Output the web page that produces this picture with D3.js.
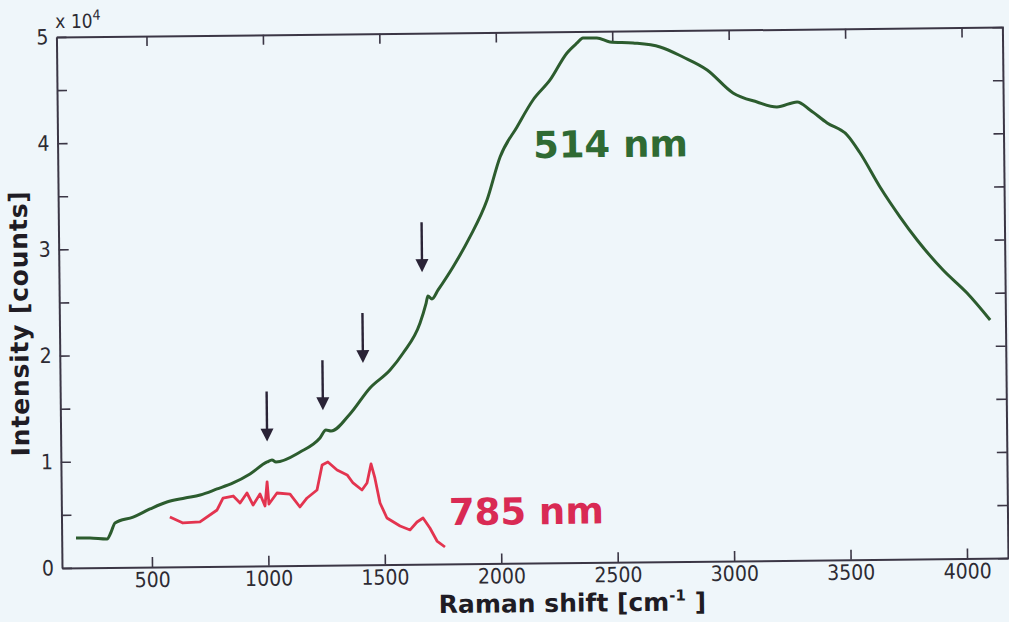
<!DOCTYPE html>
<html>
<head>
<meta charset="utf-8">
<script src="https://cdn.jsdelivr.net/npm/d3@7"></script>
<style>
  html, body { margin: 0; padding: 0; background: #eff6fa; }
  svg { display: block; }
</style>
</head>
<body>
<svg id="chart" width="1009" height="622"></svg>
<script>
// 514 nm excitation: Raman shift (cm-1) and intensity (units of 10^4 counts)
const shift514 = [175, 235, 308, 326, 343, 421, 494, 567, 645, 710, 783, 852, 925, 999, 1020, 1037,
  1141, 1227, 1253, 1275, 1357, 1444, 1531, 1588, 1662, 1689, 1697, 1714, 1741, 1806, 1880, 1955,
  2013, 2087, 2157, 2231, 2305, 2349, 2374, 2434, 2490, 2589, 2705, 2803, 2906, 3016, 3119, 3204,
  3291, 3346, 3419, 3504, 3559, 3643, 3728, 3800, 3910, 4012, 4110];
const counts514 = [0.281, 0.280, 0.269, 0.334, 0.419, 0.473, 0.547, 0.611, 0.647, 0.674, 0.729, 0.784,
  0.867, 0.978, 0.996, 0.977, 1.069, 1.199, 1.273, 1.264, 1.422, 1.665, 1.832, 1.991, 2.272, 2.459,
  2.525, 2.497, 2.581, 2.796, 3.077, 3.423, 3.827, 4.108, 4.360, 4.547, 4.800, 4.893, 4.939, 4.938,
  4.899, 4.887, 4.847, 4.750, 4.626, 4.407, 4.319, 4.270, 4.316, 4.239, 4.115, 4.000, 3.829, 3.507,
  3.222, 3.004, 2.719, 2.500, 2.244];

// 785 nm excitation
const shift785 = [579, 635, 708, 782, 808, 852, 881, 911, 937, 967, 988, 998, 1005, 1040, 1096, 1138,
  1169, 1212, 1235, 1260, 1299, 1342, 1367, 1405, 1427, 1445, 1461, 1482, 1511, 1567, 1610, 1640,
  1666, 1695, 1725, 1759];
const counts785 = [0.470, 0.412, 0.420, 0.531, 0.643, 0.661, 0.595, 0.688, 0.574, 0.677, 0.564, 0.790,
  0.582, 0.685, 0.674, 0.551, 0.635, 0.709, 0.944, 0.972, 0.896, 0.848, 0.772, 0.705, 0.770, 0.949,
  0.817, 0.581, 0.439, 0.362, 0.324, 0.398, 0.435, 0.340, 0.217, 0.160];

// Bands marked with arrows on the 514 nm trace: shift and intensity at the arrow tip
const arrowShift = [1000, 1241, 1415, 1673];
const arrowTip = [1.17, 1.46, 1.90, 2.75];

// Axis ticks
const xTicks = [500, 1000, 1500, 2000, 2500, 3000, 3500, 4000];
const yTicks = [0, 0.5, 1, 1.5, 2, 2.5, 3, 3.5, 4, 4.5, 5];
const yTickLabels = ["0", "", "1", "", "2", "", "3", "", "4", "", "5"];

const seriesNames = ["514 nm", "785 nm"];

const svg = d3.select("#chart");
const W = 1009, H = 622;
const mLeft = 62, mRight = 1009, mTop = 37, mBottom = 568;

const x = d3.scaleLinear().domain([113.5, 4180]).range([mLeft, mRight]);
const y = d3.scaleLinear().domain([0, 5]).range([mBottom, mTop]);

svg.append("rect").attr("width", W).attr("height", H).attr("fill", "#eff6fa");

// the whole figure sits slightly tilted
const g = svg.append("g").attr("transform", `rotate(-0.6, ${mLeft}, ${mBottom})`);

const axisColor = "#3b3645";
const tickFont = "'DejaVu Sans Condensed', 'Liberation Sans Narrow', sans-serif";

function styleAxis(sel) {
  sel.selectAll("path.domain").attr("stroke", axisColor).attr("stroke-width", 2);
  sel.selectAll(".tick line").attr("stroke", axisColor).attr("stroke-width", 1.6);
  sel.selectAll(".tick text")
    .attr("fill", "#2d2b33")
    .style("font-family", tickFont)
    .style("font-size", "21px");
}

g.append("g").attr("transform", `translate(0,${mBottom})`)
  .call(d3.axisBottom(x).tickValues(xTicks).tickSize(-10).tickSizeOuter(0).tickPadding(5).tickFormat(d3.format("d")))
  .call(styleAxis);
g.append("g").attr("transform", `translate(0,${mTop})`)
  .call(d3.axisTop(x).tickValues(xTicks).tickSize(-10).tickSizeOuter(0).tickFormat(() => ""))
  .call(styleAxis);
g.append("g").attr("transform", `translate(${mLeft},0)`)
  .call(d3.axisLeft(y).tickValues(yTicks).tickSize(-10).tickSizeOuter(0).tickPadding(8)
    .tickFormat((d, i) => yTickLabels[i]))
  .call(styleAxis);
g.append("g").attr("transform", `translate(${mRight - 1},0)`)
  .call(d3.axisRight(y).tickValues(yTicks).tickSize(-10).tickSizeOuter(0).tickFormat(() => ""))
  .call(styleAxis);

// exponent label above the y axis
const expo = g.append("text")
  .attr("x", mLeft - 1)
  .attr("y", 28)
  .attr("fill", "#2d2b33")
  .style("font-family", tickFont)
  .style("font-size", "19px");
expo.append("tspan").text("x 10");
expo.append("tspan").attr("dy", -8).style("font-size", "14px").text("4");

// spectra
const line = d3.line().x(d => x(d[0])).y(d => y(d[1]));

g.append("path")
  .datum(d3.zip(shift785, counts785))
  .attr("d", line)
  .attr("fill", "none")
  .attr("stroke", "#e3344f")
  .attr("stroke-width", 2.8)
  .attr("stroke-linejoin", "round");

g.append("path")
  .datum(d3.zip(shift514, counts514))
  .attr("d", line.curve(d3.curveMonotoneX))
  .attr("fill", "none")
  .attr("stroke", "#2c5c2e")
  .attr("stroke-width", 3)
  .attr("stroke-linejoin", "round");

// arrows
const arrowColor = "#2a2336";
const arrowLen = 50, headLen = 13, headHalf = 6.5;
const arrows = g.append("g");
arrowShift.forEach((s, i) => {
  const ax = x(s), ay = y(arrowTip[i]);
  arrows.append("line")
    .attr("x1", ax).attr("x2", ax)
    .attr("y1", ay - arrowLen).attr("y2", ay - headLen + 2)
    .attr("stroke", arrowColor).attr("stroke-width", 2.4);
  arrows.append("path")
    .attr("d", `M${ax},${ay} L${ax - headHalf},${ay - headLen} L${ax + headHalf},${ay - headLen} Z`)
    .attr("fill", arrowColor);
});

// series labels
g.append("text")
  .attr("x", x(2155)).attr("y", y(3.815))
  .attr("fill", "#2f6a33")
  .style("font-family", "'DejaVu Sans', Verdana, sans-serif")
  .style("font-weight", "bold")
  .style("font-size", "37px")
  .text(seriesNames[0]);

g.append("text")
  .attr("x", x(1777)).attr("y", y(0.366))
  .attr("fill", "#d92a54")
  .style("font-family", "'DejaVu Sans', Verdana, sans-serif")
  .style("font-weight", "bold")
  .style("font-size", "37px")
  .text(seriesNames[1]);

// axis titles
const titleFont = "'DejaVu Sans', Verdana, sans-serif";
const xt = g.append("text")
  .attr("x", 572).attr("y", 617)
  .attr("text-anchor", "middle")
  .attr("fill", "#1f1c24")
  .style("font-family", titleFont)
  .style("font-weight", "bold")
  .style("font-size", "25px");
xt.append("tspan").text("Raman shift [cm");
xt.append("tspan").attr("dy", -10).style("font-size", "15px").text("-1");
xt.append("tspan").attr("dy", 10).text(" ]");

g.append("text")
  .attr("transform", "translate(30.6,323) rotate(-90)")
  .attr("text-anchor", "middle")
  .attr("fill", "#1f1c24")
  .style("font-family", titleFont)
  .style("font-weight", "bold")
  .style("font-size", "25px")
  .style("letter-spacing", "0.8px")
  .text("Intensity [counts]");
</script>
</body>
</html>
